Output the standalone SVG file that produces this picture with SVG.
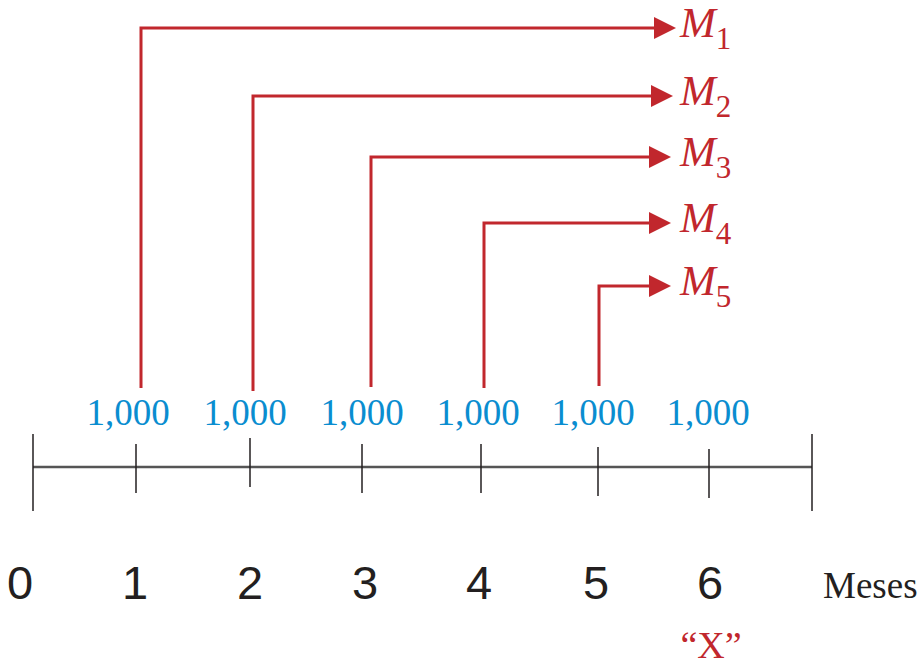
<svg xmlns="http://www.w3.org/2000/svg" width="923" height="668" viewBox="0 0 923 668">
<defs>
<style>
.flow{fill:none;stroke:#c1272d;stroke-width:3}
.head{fill:#c1272d}
.axis{stroke:#555;stroke-width:2.5}
.tick{stroke:#231f20;stroke-width:1.5}
.amt{font-family:"Liberation Serif",serif;font-size:37px;fill:#0a8dd0;text-anchor:middle}
.num{font-family:"Liberation Sans",Arial,sans-serif;font-size:47px;fill:#231f20;text-anchor:middle}
.lbl{font-family:"Liberation Serif",serif;font-style:italic;font-size:43px;fill:#c1272d}
.sub{font-style:normal;font-size:31px}
</style>
</defs>
<rect width="923" height="668" fill="#fff"/>
<g id="axis">
<line class="axis" x1="33" y1="467" x2="812" y2="467"/>
<line class="tick" x1="33" y1="434" x2="33" y2="511"/>
<line class="tick" x1="136" y1="444" x2="136" y2="493"/>
<line class="tick" x1="250" y1="438" x2="250" y2="487"/>
<line class="tick" x1="362" y1="444" x2="362" y2="493"/>
<line class="tick" x1="481" y1="444" x2="481" y2="493"/>
<line class="tick" x1="598" y1="447" x2="598" y2="496"/>
<line class="tick" x1="709" y1="449" x2="709" y2="498"/>
<line class="tick" x1="812" y1="434" x2="812" y2="511"/>
</g>
<g id="connectors">
<path class="flow" d="M141 388V28H656"/>
<polygon class="head" points="654,17 676,28 654,39"/>
<path class="flow" d="M253 391V96H652"/>
<polygon class="head" points="651,85 673,96 651,107"/>
<path class="flow" d="M371 387V157H650"/>
<polygon class="head" points="649,146 671,157 649,168"/>
<path class="flow" d="M484 388V223H650"/>
<polygon class="head" points="649,212 671,223 649,234"/>
<path class="flow" d="M599 386V286H650"/>
<polygon class="head" points="649,275 671,286 649,297"/>
</g>
<g id="M1"><text class="lbl" x="680" y="37">M<tspan class="sub" dy="12">1</tspan></text></g>
<g id="M2"><text class="lbl" x="680" y="105">M<tspan class="sub" dy="12">2</tspan></text></g>
<g id="M3"><text class="lbl" x="680" y="166">M<tspan class="sub" dy="12">3</tspan></text></g>
<g id="M4"><text class="lbl" x="680" y="232">M<tspan class="sub" dy="12">4</tspan></text></g>
<g id="M5"><text class="lbl" x="680" y="295">M<tspan class="sub" dy="12">5</tspan></text></g>
<g id="amounts">
<text class="amt" x="128" y="425">1,000</text>
<text class="amt" x="245" y="425">1,000</text>
<text class="amt" x="362" y="425">1,000</text>
<text class="amt" x="478" y="425">1,000</text>
<text class="amt" x="593" y="425">1,000</text>
<text class="amt" x="708" y="425">1,000</text>
</g>
<g id="labels">
<text class="num" x="20" y="599">0</text>
<text class="num" x="135" y="599">1</text>
<text class="num" x="250" y="599">2</text>
<text class="num" x="365" y="599">3</text>
<text class="num" x="479" y="599">4</text>
<text class="num" x="596" y="599">5</text>
<text class="num" x="710" y="599">6</text>
<text x="823" y="598" font-family="Liberation Serif,serif" font-size="37" fill="#231f20">Meses</text>
<text x="711" y="658" font-family="Liberation Serif,serif" font-size="38" fill="#c1272d" text-anchor="middle">“X”</text>
</g>
</svg>
